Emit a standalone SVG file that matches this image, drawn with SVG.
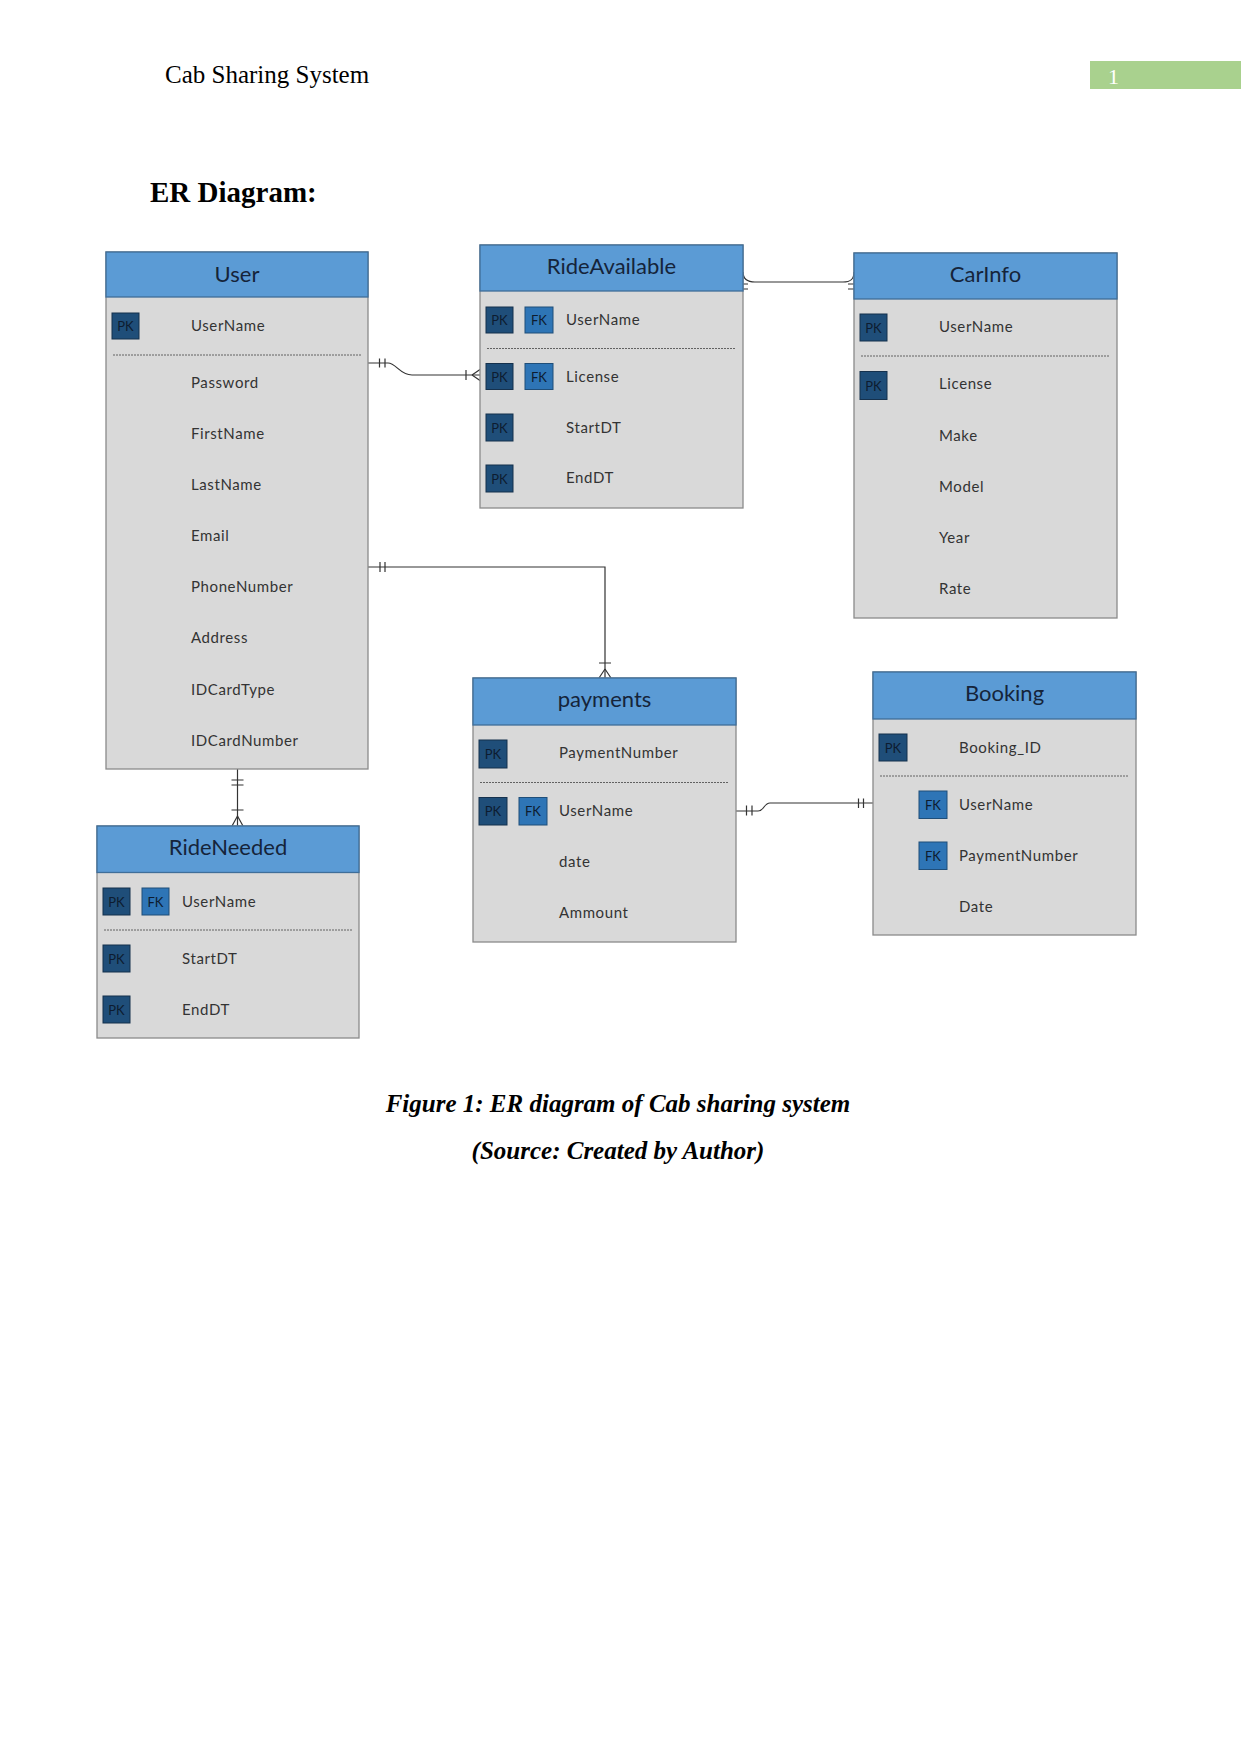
<svg xmlns="http://www.w3.org/2000/svg" width="1241" height="1754" viewBox="0 0 1241 1754">
<style>
.bg{fill:#ffffff}
.body{fill:#d9d9d9;stroke:#8a8a8a;stroke-width:1.3}
.head{fill:#5b9bd5;stroke:#3f6e99;stroke-width:1.3}
.title{font-family:Lato,"Open Sans",sans-serif;font-size:22px;fill:#15243a;text-anchor:middle}
.attr{font-family:Lato,"Open Sans",sans-serif;font-size:15px;fill:#333333;letter-spacing:0.6px}
.pk{fill:#1f4e79;stroke:#15314d;stroke-width:1}
.fk{fill:#2e75b6;stroke:#1f4e79;stroke-width:1}
.key{font-family:Lato,"Open Sans",sans-serif;font-size:13px;fill:#0d1c30;text-anchor:middle}
.sep{stroke:#555555;stroke-width:0.9;stroke-dasharray:2 1}
.conn{fill:none;stroke:#333333;stroke-width:1.2}
.hdr{font-family:"Liberation Serif",serif;font-size:25px;fill:#000000}
.cap{font-family:"Liberation Serif",serif;font-size:25px;font-weight:bold;font-style:italic;fill:#000000;text-anchor:middle}
</style>
<rect class="bg" x="0" y="0" width="1241" height="1754"/>

<g id="page-header">
<text class="hdr" x="165" y="83">Cab Sharing System</text>
<rect x="1090" y="61" width="151" height="28" fill="#a9d18e"/>
<text x="1108" y="84" font-family="Liberation Serif,serif" font-size="22px" fill="#ffffff">1</text>
<text x="150" y="202" font-family="Liberation Serif,serif" font-size="29px" font-weight="bold" fill="#000000">ER Diagram:</text>
</g>

<g id="connectors">
<!-- User - RideAvailable -->
<path class="conn" d="M368,363 L388,363 C396,363 400,375 412,375 L480,375"/>
<path class="conn" d="M379.5,358.5 V367.5 M385,358.5 V367.5"/>
<path class="conn" d="M466,370 V380 M472,375 L480,369.5 M472,375 L480,380.5"/>
<!-- RideAvailable - CarInfo -->
<path class="conn" d="M743,272 C743,279 747,282 755,282 L843,282 C851,282 854,279 854,272"/>
<path class="conn" d="M736,284 H748 M736,289 H748 M848,284 H860 M848,289 H860"/>
<!-- User - payments -->
<path class="conn" d="M368,567 L605,567 L605,678"/>
<path class="conn" d="M380,562 V572 M385,562 V572"/>
<path class="conn" d="M599,663 H611 M605,669 L599,678 M605,669 L611,678"/>
<!-- User - RideNeeded -->
<path class="conn" d="M237.5,769 V826"/>
<path class="conn" d="M231.5,780 H243.5 M231.5,785 H243.5 M231.5,810 H243.5 M237.5,816 L232,826 M237.5,816 L243,826"/>
<!-- payments - Booking -->
<path class="conn" d="M736,811 L758,811 C764,811 764,803 770,803 L873,803"/>
<path class="conn" d="M746.5,805.5 V815.5 M752,805.5 V815.5 M858.5,798.5 V808 M863.5,798.5 V808"/>
</g>

<g id="User">
<rect class="body" x="106" y="252" width="262" height="517"/>
<rect class="head" x="106" y="252" width="262" height="45"/>
<text class="title" x="237" y="282">User</text>
<rect class="pk" x="112" y="313" width="27" height="26"/><text class="key" x="125.5" y="331">PK</text>
<text class="attr" x="191" y="331">UserName</text>
<line class="sep" x1="113" y1="355" x2="362" y2="355"/>
<text class="attr" x="191" y="388">Password</text>
<text class="attr" x="191" y="439">FirstName</text>
<text class="attr" x="191" y="490">LastName</text>
<text class="attr" x="191" y="541">Email</text>
<text class="attr" x="191" y="592">PhoneNumber</text>
<text class="attr" x="191" y="643">Address</text>
<text class="attr" x="191" y="695">IDCardType</text>
<text class="attr" x="191" y="746">IDCardNumber</text>
</g>

<g id="RideAvailable">
<rect class="body" x="480" y="245" width="263" height="263"/>
<rect class="head" x="480" y="245" width="263" height="46"/>
<text class="title" x="611.5" y="274">RideAvailable</text>
<rect class="pk" x="486" y="307" width="27" height="26"/><text class="key" x="499.5" y="325">PK</text>
<rect class="fk" x="525" y="307" width="28" height="26"/><text class="key" x="539" y="325">FK</text>
<text class="attr" x="566" y="325">UserName</text>
<line class="sep" x1="487" y1="348.5" x2="736" y2="348.5"/>
<rect class="pk" x="486" y="363.5" width="27" height="26"/><text class="key" x="499.5" y="381.5">PK</text>
<rect class="fk" x="525" y="363.5" width="28" height="26"/><text class="key" x="539" y="381.5">FK</text>
<text class="attr" x="566" y="382">License</text>
<rect class="pk" x="486" y="414" width="27" height="27"/><text class="key" x="499.5" y="432.5">PK</text>
<text class="attr" x="566" y="433">StartDT</text>
<rect class="pk" x="486" y="465" width="27" height="27"/><text class="key" x="499.5" y="483.5">PK</text>
<text class="attr" x="566" y="483">EndDT</text>
</g>

<g id="CarInfo">
<rect class="body" x="854" y="253" width="263" height="365"/>
<rect class="head" x="854" y="253" width="263" height="46"/>
<text class="title" x="985.5" y="282">CarInfo</text>
<rect class="pk" x="860" y="314" width="27" height="27"/><text class="key" x="873.5" y="332.5">PK</text>
<text class="attr" x="939" y="332">UserName</text>
<line class="sep" x1="861" y1="356" x2="1110" y2="356"/>
<rect class="pk" x="860" y="371.5" width="27" height="28"/><text class="key" x="873.5" y="390.5">PK</text>
<text class="attr" x="939" y="389">License</text>
<text class="attr" x="939" y="441">Make</text>
<text class="attr" x="939" y="492">Model</text>
<text class="attr" x="939" y="543">Year</text>
<text class="attr" x="939" y="594">Rate</text>
</g>

<g id="payments">
<rect class="body" x="473" y="678" width="263" height="264"/>
<rect class="head" x="473" y="678" width="263" height="47"/>
<text class="title" x="604.5" y="707">payments</text>
<rect class="pk" x="479" y="740" width="28" height="28"/><text class="key" x="493" y="759">PK</text>
<text class="attr" x="559" y="758">PaymentNumber</text>
<line class="sep" x1="480" y1="782.5" x2="729" y2="782.5"/>
<rect class="pk" x="479" y="797.5" width="28" height="27.5"/><text class="key" x="493" y="816">PK</text>
<rect class="fk" x="519" y="797.5" width="28" height="27.5"/><text class="key" x="533" y="816">FK</text>
<text class="attr" x="559" y="816">UserName</text>
<text class="attr" x="559" y="867">date</text>
<text class="attr" x="559" y="918">Ammount</text>
</g>

<g id="Booking">
<rect class="body" x="873" y="672" width="263" height="263"/>
<rect class="head" x="873" y="672" width="263" height="47"/>
<text class="title" x="1004.5" y="701">Booking</text>
<rect class="pk" x="879" y="734" width="28" height="27"/><text class="key" x="893" y="752.5">PK</text>
<text class="attr" x="959" y="753">Booking_ID</text>
<line class="sep" x1="880" y1="776" x2="1129" y2="776"/>
<rect class="fk" x="919" y="791" width="28" height="27.5"/><text class="key" x="933" y="809.5">FK</text>
<text class="attr" x="959" y="810">UserName</text>
<rect class="fk" x="919" y="842" width="28" height="27.5"/><text class="key" x="933" y="860.5">FK</text>
<text class="attr" x="959" y="861">PaymentNumber</text>
<text class="attr" x="959" y="912">Date</text>
</g>

<g id="RideNeeded">
<rect class="body" x="97" y="826" width="262" height="212"/>
<rect class="head" x="97" y="826" width="262" height="46.5"/>
<text class="title" x="228" y="855">RideNeeded</text>
<rect class="pk" x="103" y="888" width="27" height="27"/><text class="key" x="116.5" y="906.5">PK</text>
<rect class="fk" x="142" y="888" width="27" height="27"/><text class="key" x="155.5" y="906.5">FK</text>
<text class="attr" x="182" y="907">UserName</text>
<line class="sep" x1="104" y1="930" x2="352" y2="930"/>
<rect class="pk" x="103" y="945" width="27" height="27"/><text class="key" x="116.5" y="963.5">PK</text>
<text class="attr" x="182" y="964">StartDT</text>
<rect class="pk" x="103" y="996" width="27" height="27"/><text class="key" x="116.5" y="1014.5">PK</text>
<text class="attr" x="182" y="1015">EndDT</text>
</g>

<g id="caption">
<text class="cap" x="618" y="1112">Figure 1: ER diagram of Cab sharing system</text>
<text class="cap" x="618" y="1159">(Source: Created by Author)</text>
</g>
</svg>
